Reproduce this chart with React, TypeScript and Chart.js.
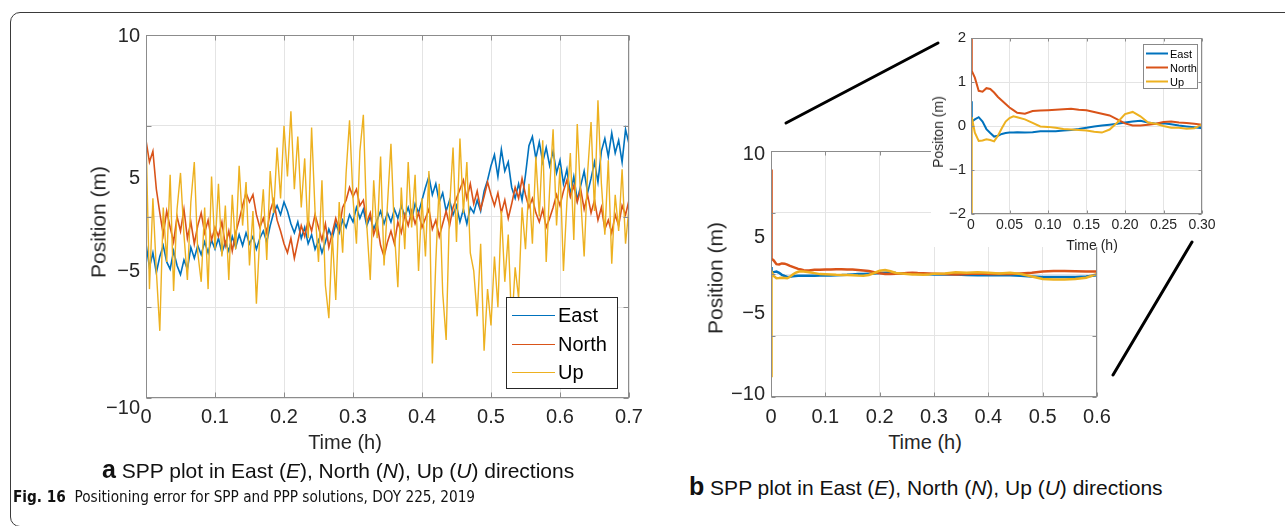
import React, { useEffect, useRef } from 'react';
import { Chart, registerables } from 'chart.js';

Chart.register(...registerables);

const FONT = '"Liberation Sans", Arial, Helvetica, sans-serif';
const NARROW = '"Liberation Sans Narrow", "DejaVu Sans Condensed", "Liberation Sans", sans-serif';
const EAST_C = '#0072BD';
const NORTH_C = '#D95319';
const UP_C = '#EDB120';
const GRID_C = '#e4e4e4';
const BOX_C = '#8c8c8c';
const TEXT_C = '#262626';

const seriesNames = ['East', 'North', 'Up'];

// ---------- Panel a: SPP ----------
const aXTicks = [0, 0.1, 0.2, 0.3, 0.4, 0.5, 0.6, 0.7];
const aYGrid = [10, 5, 0, -5, -10];
const aYLabels = ['10', '5', '\u22125', '\u221210'];
const aYLabelAt = [9.9, 2.1, -3.05, -10.6];
const aTime = Array.from({ length: 141 }, (_, i) => +(i * 0.005).toFixed(3));
const aEast = [
  -1.5, -2.8, -2.0, -3.1, -2.2, -1.6, -2.5, -2.9, -1.9, -2.7, -3.2, -2.4, -2.9, -1.7, -2.3, -1.6, -2.1, -1.4, -2.0, -1.3, -1.8,
  -1.2, -2.0, -1.4, -1.9, -1.1, -1.7, -1.0, -1.6, -0.9, -1.5, -1.1, -1.8, -1.2, -0.8, -1.4, -0.5, 0.2, 0.6, 0.1, 0.8,
  0.3, -0.4, -0.9, -0.3, -1.2, -0.6, -1.5, -1.0, -1.8, -1.3, -2.0, -1.4, -0.7, -1.2, -0.4, -0.9, -0.2, -0.6, 0.1, -0.3,
  0.5, -0.1, 0.4, -0.5, 0.0, -0.7, -0.2, 0.3, -0.4, 0.2, -0.3, 0.4, -0.1, 0.6, 0.0, 0.5, -0.2, 0.7, 0.2, 0.9,
  1.6, 2.2, 1.2, 1.8, 0.8, 1.3, 0.3, 0.9, 0.1, 0.6, -0.3, 0.4, -0.4, 0.5, 0.2, 0.9, 0.3, 1.4, 2.0, 2.8,
  3.4, 2.2, 3.7, 2.5, 3.0, 1.6, 1.0, 1.8, 0.9, 2.3, 3.9, 4.4, 3.2, 4.1, 3.0, 3.8, 2.8, 3.6, 2.4, 3.1,
  1.8, 2.6, 1.2, 2.2, 0.9, 1.7, 2.5, 1.3, 2.1, 3.0, 1.9, 3.6, 4.3, 3.3, 4.6, 3.5, 4.2, 3.0, 4.8, 4.0,
];
const aNorth = [
  4.2, 3.0, 3.6, 1.5, 0.2, -1.0, 0.3, -0.6, -1.4, 0.0, -0.8, 0.4, -1.2, -0.3, -1.5, -0.5, 0.2, -0.9, -0.2, -1.3, -0.6,
  -1.1, -0.3, -1.6, -0.8, -1.9, -0.9, -0.2, 0.6, 1.3, 0.8, 1.2, 0.1, -0.6, -0.1, -0.9, 0.3, 0.9, -0.2, -0.8, -1.5,
  -2.0, -1.2, -2.3, -1.4, -0.5, -1.1, -0.2, -0.8, 0.1, -0.6, -1.3, -0.4, -1.7, -0.9, -0.1, -0.7, 0.5, 0.9, 1.6, 1.1,
  1.5, 0.6, 0.9, -0.3, 0.2, -1.0, -0.4, -1.6, -2.2, -1.4, -0.8, -1.5, -0.3, -0.9, 0.1, -0.5, 0.3, -0.4, 0.2, -0.6,
  -0.1, 0.4, -0.7, -0.2, -1.1, -0.4, 0.3, -0.5, 0.5, 1.0, 1.5, 2.0, 1.0, 1.8, 0.7, 1.4, 0.4, 1.1, 1.9, 1.2,
  0.6, 1.3, 0.2, 0.9, -0.1, 0.7, 1.6, 1.0, 2.1, 1.2, 0.5, 1.0, 0.2, -0.3, 0.4, -0.6, -0.1, 0.5, 1.2, 0.6,
  1.4, 2.0, 1.1, 1.7, 0.8, 1.5, 0.4, 1.2, 0.2, 0.9, -0.2, 0.5, -0.7, -0.2, -0.9, 0.1, -0.5, 0.6, 0.1, 0.9,
];
const aUp = [
  4.5, -4.0, 1.0, -3.0, -6.3, 0.5, -2.5, 2.3, -4.1, 0.4, 2.4, -1.0, -3.5, 0.8, 3.0, -2.0, -3.6, 0.5, -4.0, 2.2, -1.8,
  1.8, -2.2, 0.6, -3.5, 1.2, -1.8, 2.8, -0.5, 1.9, -2.7, 0.3, -4.8, -1.0, 1.5, -2.4, 2.5, 0.2, 3.8, 1.0, 5.0,
  2.2, 5.8, 1.5, 4.4, 0.5, 3.2, -1.2, 4.9, 0.3, -2.5, 2.0, -3.8, -5.6, -1.0, -4.6, 0.8, -2.0, 2.4, 5.3, 1.0,
  -1.5, 3.6, 5.6, -0.5, -3.5, 2.0, -1.2, 3.3, -2.7, 0.7, 4.0, -0.8, -3.9, 1.6, -1.8, 3.0, -0.6, 2.3, -3.0, 1.0,
  -2.2, 2.5, -8.1, -2.5, 1.8, -4.2, -6.8, 0.5, 3.8, -1.4, 4.3, 0.2, 3.0, -2.0, -3.0, -5.5, -1.5, -7.4, -4.0, -6.0,
  -2.2, -5.0, 0.3, -3.6, -1.0, -6.1, -2.8, -4.5, 0.5, -1.8, 1.8, -1.5, 3.3, 0.0, 4.2, -2.5, 1.5, 4.8, -0.5, 2.7,
  -3.0, 0.8, 3.5, -1.3, 5.1, 1.0, -2.2, 2.4, 5.2, 0.3, 6.4, 1.8, -1.0, 3.1, -2.6, 1.2, -0.8, 2.6, -1.5, 0.5,
];

// ---------- Panel b: converged solution ----------
const bXTicks = [0, 0.1, 0.2, 0.3, 0.4, 0.5, 0.6];
const bYGrid = [10, 5, 0, -5, -10];
const bYLabels = ['10', '5', '\u22125', '\u221210'];
const bYLabelAt = [9.7, 3.0, -3.2, -9.8];
const bTime = [
  0, 0.001, 0.005,
  0.01, 0.015, 0.02, 0.025, 0.03, 0.035, 0.04, 0.045, 0.05, 0.055, 0.06,
  0.07, 0.08, 0.09, 0.1, 0.11, 0.12, 0.13, 0.14, 0.15, 0.16, 0.17, 0.18, 0.19, 0.2, 0.21, 0.22, 0.23, 0.24, 0.25, 0.26, 0.27, 0.28, 0.29, 0.3,
  0.32, 0.34, 0.36, 0.38, 0.4, 0.42, 0.44, 0.46, 0.48, 0.5, 0.52, 0.54, 0.56, 0.58, 0.6,
];
const bEast = [
  0.56, 0.1, 0.15,
  0.2, 0.1, -0.07, -0.16, -0.24, -0.22, -0.18, -0.16, -0.15, -0.15, -0.14,
  -0.15, -0.14, -0.12, -0.12, -0.12, -0.1, -0.09, -0.07, -0.04, -0.01, 0.01, 0.03, 0.05, 0.08, 0.1, 0.12, 0.08, 0.05, 0.06, 0.04, 0.01, -0.01, -0.03, -0.05,
  -0.05, -0.05, -0.08, -0.1, -0.1, -0.1, -0.1, -0.15, -0.2, -0.25, -0.25, -0.25, -0.25, -0.2, -0.1,
];
const bNorth = [
  8.5, 1.25, 1.1,
  0.8, 0.78, 0.86, 0.84, 0.76, 0.66, 0.58, 0.5, 0.42, 0.36, 0.3,
  0.28, 0.34, 0.35, 0.36, 0.37, 0.38, 0.39, 0.37, 0.36, 0.32, 0.28, 0.24, 0.15, 0.06, 0.01, 0.01, 0.03, 0.05, 0.09, 0.1, 0.08, 0.07, 0.05, 0.03,
  0.0, -0.05, 0.0, 0.05, 0.0, 0.02, 0.0, 0.05, 0.1, 0.2, 0.25, 0.25, 0.22, 0.2, 0.2,
];
const bUp = [
  -8.3, 0.2, -0.15,
  -0.34, -0.33, -0.3, -0.32, -0.35, -0.22, -0.05, 0.1, 0.18, 0.22, 0.2,
  0.15, 0.07, -0.01, -0.02, -0.04, -0.07, -0.08, -0.09, -0.1, -0.13, -0.15, -0.08, 0.08, 0.27, 0.32, 0.22, 0.08, 0.05, 0.0, -0.04, -0.04, -0.06, -0.05, 0.03,
  0.05, 0.15, 0.1, 0.15, 0.1, 0.05, 0.1, 0.0, -0.2, -0.4, -0.45, -0.45, -0.4, -0.3, 0.0,
];

// ---------- Inset (zoom of panel b) ----------
const cXTicks = [0, 0.05, 0.1, 0.15, 0.2, 0.25, 0.3];
const cYTicks = [2, 1, 0, -1, -2];
const cYLabels = ['2', '1', '0', '\u22121', '\u22122'];

// ---------- helpers ----------
type Mark = { v: number; g: boolean; t: string };

function makeY(marks: Mark[], min: number, max: number, size: number, pad: number, width: number) {
  return {
    type: 'linear',
    min,
    max,
    afterBuildTicks: (s: any) => {
      s.ticks = marks.map((m) => ({ value: m.v }));
    },
    afterFit: (s: any) => {
      s.width = width;
    },
    ticks: {
      autoSkip: false,
      padding: pad,
      color: TEXT_C,
      font: { family: FONT, size },
      callback: (_v: any, i: number) => (marks[i] ? marks[i].t : ''),
    },
    grid: {
      drawTicks: false,
      color: (c: any) => (marks[c.index] && marks[c.index].g ? GRID_C : 'rgba(0,0,0,0)'),
    },
    border: { display: false },
  };
}

function makeX(ticksArr: number[], fmt: (v: number) => string, min: number, max: number, size: number, pad: number, height: number) {
  return {
    type: 'linear',
    min,
    max,
    afterBuildTicks: (s: any) => {
      s.ticks = ticksArr.map((v) => ({ value: v }));
    },
    afterFit: (s: any) => {
      s.height = height;
    },
    ticks: {
      autoSkip: false,
      maxRotation: 0,
      minRotation: 0,
      padding: pad,
      color: TEXT_C,
      font: { family: FONT, size },
      callback: (v: any) => fmt(Number(v)),
    },
    grid: { drawTicks: false, color: GRID_C },
    border: { display: false },
  };
}

const boxPlugin = {
  id: 'matBox',
  afterDatasetsDraw(chart: any, _a: any, o: any) {
    if (!o || !o.on) return;
    const { ctx, chartArea: a, scales } = chart;
    const L = Math.round(a.left) + 0.5;
    const R = Math.round(a.right) - 0.5;
    const T = Math.round(a.top) + 0.5;
    const B = Math.round(a.bottom) - 0.5;
    ctx.save();
    ctx.strokeStyle = BOX_C;
    ctx.lineWidth = 1;
    ctx.strokeRect(L, T, R - L, B - T);
    const tl = o.tick || 4;
    ctx.beginPath();
    (o.xTicks || []).forEach((v: number) => {
      const px = Math.round(scales.x.getPixelForValue(v)) + 0.5;
      ctx.moveTo(px, B);
      ctx.lineTo(px, B - tl);
      ctx.moveTo(px, T);
      ctx.lineTo(px, T + tl);
    });
    (o.yTicks || []).forEach((v: number) => {
      const py = Math.round(scales.y.getPixelForValue(v)) + 0.5;
      ctx.moveTo(L, py);
      ctx.lineTo(L + tl, py);
      ctx.moveTo(R, py);
      ctx.lineTo(R - tl, py);
    });
    ctx.stroke();
    ctx.restore();
  },
};

const legendPlugin = {
  id: 'matLegend',
  afterDraw(chart: any, _a: any, o: any) {
    if (!o || !o.items) return;
    const ctx = chart.ctx;
    ctx.save();
    ctx.fillStyle = '#ffffff';
    ctx.fillRect(o.x, o.y, o.w, o.h);
    ctx.strokeStyle = o.border;
    ctx.lineWidth = 1;
    ctx.strokeRect(o.x + 0.5, o.y + 0.5, o.w, o.h);
    ctx.font = `${o.size}px ${FONT}`;
    ctx.textBaseline = 'middle';
    o.items.forEach((it: any, i: number) => {
      const y = Math.round(o.y + o.first + i * o.row) + 0.5;
      ctx.strokeStyle = it.color;
      ctx.lineWidth = o.lw;
      ctx.beginPath();
      ctx.moveTo(o.x + o.l0, y);
      ctx.lineTo(o.x + o.l1, y);
      ctx.stroke();
      ctx.fillStyle = '#000';
      ctx.fillText(it.label, o.x + o.tx, y + 1);
    });
    ctx.restore();
  },
};

function ds(label: string, xs: number[], ys: number[], color: string, width: number, order: number) {
  return {
    label,
    data: xs.map((x, i) => ({ x, y: ys[i] })),
    borderColor: color,
    backgroundColor: color,
    borderWidth: width,
    pointRadius: 0,
    fill: false,
    tension: 0,
    order,
  };
}

const colors = [EAST_C, NORTH_C, UP_C];
const legendItems = seriesNames.map((n, i) => ({ label: n, color: colors[i] }));

const fmt1 = (v: number) => (v === 0 ? '0' : v.toFixed(1));
const fmt2 = (v: number) => (v === 0 ? '0' : v.toFixed(2));

function baseOptions(padding: any, scales: any, box: any, legend: any) {
  return {
    responsive: false,
    maintainAspectRatio: false,
    animation: false,
    events: [],
    layout: { padding },
    plugins: {
      legend: { display: false },
      tooltip: { enabled: false },
      matBox: box,
      matLegend: legend,
    },
    scales,
  };
}

const aYMarks: Mark[] = [
  ...aYGrid.map((v) => ({ v, g: true, t: '' })),
  ...aYLabelAt.map((v, i) => ({ v, g: false, t: aYLabels[i] })),
];
const bYMarks: Mark[] = [
  ...bYGrid.map((v) => ({ v, g: true, t: '' })),
  ...bYLabelAt.map((v, i) => ({ v, g: false, t: bYLabels[i] })),
];
const cYMarks: Mark[] = cYTicks.map((v, i) => ({ v, g: true, t: cYLabels[i] }));

function configA() {
  return {
    type: 'line',
    data: {
      datasets: [
        ds(seriesNames[0], aTime, aEast, EAST_C, 1.6, 2),
        ds(seriesNames[1], aTime, aNorth, NORTH_C, 1.6, 1),
        ds(seriesNames[2], aTime, aUp, UP_C, 1.4, 0),
      ],
    },
    options: baseOptions(
      { top: 35, right: 31, left: 0, bottom: 0 },
      {
        x: makeX(aXTicks, fmt1, 0, 0.7, 20, 7, 42),
        y: makeY(aYMarks, -10, 10, 20, 6, 146),
      },
      { on: true, xTicks: aXTicks, yTicks: aYGrid, tick: 5 },
      { items: legendItems, x: 506, y: 297, w: 111, h: 91, first: 18, row: 28.5, l0: 6, l1: 49, tx: 52, size: 20, lw: 1, border: '#262626' }
    ),
    plugins: [boxPlugin, legendPlugin],
  };
}

function configB() {
  return {
    type: 'line',
    data: {
      datasets: [
        ds(seriesNames[0], bTime, bEast, EAST_C, 2.5, 2),
        ds(seriesNames[1], bTime, bNorth, NORTH_C, 2.5, 1),
        ds(seriesNames[2], bTime, bUp, UP_C, 2.5, 0),
      ],
    },
    options: baseOptions(
      { top: 31, right: 23, left: 0, bottom: 0 },
      {
        x: makeX(bXTicks, fmt1, 0, 0.6, 20, 8, 33),
        y: makeY(bYMarks, -10, 10, 20, 6, 91),
      },
      { on: true, xTicks: bXTicks, yTicks: bYGrid, tick: 4 },
      null
    ),
    plugins: [boxPlugin, legendPlugin],
  };
}

function configC() {
  return {
    type: 'line',
    data: {
      datasets: [
        ds(seriesNames[0], bTime, bEast, EAST_C, 2, 2),
        ds(seriesNames[1], bTime, bNorth, NORTH_C, 2, 1),
        ds(seriesNames[2], bTime, bUp, UP_C, 2, 0),
      ],
    },
    options: baseOptions(
      { top: 18, right: 29, left: 0, bottom: 0 },
      {
        x: makeX(cXTicks, fmt2, 0, 0.3, 14, 3, 33),
        y: makeY(cYMarks, -2, 2, 15, 5, 40),
      },
      { on: true, xTicks: cXTicks, yTicks: cYTicks, tick: 3 },
      { items: legendItems, x: 212, y: 24, w: 54, h: 44, first: 9, row: 14, l0: 3, l1: 25, tx: 27, size: 11, lw: 2, border: '#888888' }
    ),
    plugins: [boxPlugin, legendPlugin],
  };
}

function ChartCanvas(props: { left: number; top: number; width: number; height: number; make: () => any; bg?: string }) {
  const ref = useRef<HTMLCanvasElement | null>(null);
  useEffect(() => {
    const chart = new Chart(ref.current as HTMLCanvasElement, props.make());
    return () => chart.destroy();
  }, []);
  return (
    <canvas
      ref={ref}
      width={props.width}
      height={props.height}
      style={{
        position: 'absolute',
        left: props.left,
        top: props.top,
        width: props.width,
        height: props.height,
        background: props.bg || 'transparent',
      }}
    />
  );
}

function Txt(props: { x: number; y: number; size: number; rot?: number; left?: boolean; sx?: number; family?: string; color?: string; children: any }) {
  const tx = props.left ? '0' : '-50%';
  return (
    <div
      style={{
        position: 'absolute',
        left: props.x,
        top: props.y,
        transformOrigin: props.left ? 'left center' : 'center center',
        transform: `translate(${tx}, -50%)${props.rot ? ` rotate(${props.rot}deg)` : ''}${props.sx ? ` scaleX(${props.sx})` : ''}`,
        fontFamily: props.family || FONT,
        fontSize: props.size,
        lineHeight: 1,
        whiteSpace: 'nowrap',
        color: props.color || TEXT_C,
      }}
    >
      {props.children}
    </div>
  );
}

export default function App() {
  return (
    <div
      style={{
        position: 'fixed',
        left: 0,
        top: 0,
        width: 1285,
        height: 526,
        overflow: 'hidden',
        background: '#ffffff',
      }}
    >
      <div
        style={{
          position: 'absolute',
          left: 10,
          top: 12,
          width: 1300,
          height: 513,
          border: '1px solid #3a3a3a',
          borderRadius: 10,
        }}
      />
      <ChartCanvas left={0} top={0} width={660} height={440} make={configA} />
      <ChartCanvas left={680} top={120} width={440} height={310} make={configB} />
      <ChartCanvas left={931} top={20} width={300} height={227} make={configC} bg="#ffffff" />

      <Txt x={98} y={222} size={21} rot={-90}>Position (m)</Txt>
      <Txt x={345} y={442} size={20}>Time (h)</Txt>
      <Txt x={715} y={278} size={21} rot={-90}>Position (m)</Txt>
      <Txt x={925} y={442} size={20}>Time (h)</Txt>
      <Txt x={938} y={132} size={14} rot={-90}>Positon (m)</Txt>
      <Txt x={1092} y={245} size={14}>Time (h)</Txt>

      <Txt x={102} y={469} size={21} left color="#111">
        <b style={{ fontSize: 25 }}>a</b> SPP plot in East (<i>E</i>), North (<i>N</i>), Up (<i>U</i>) directions
      </Txt>
      <Txt x={689} y={486} size={21} left color="#111">
        <b style={{ fontSize: 25 }}>b</b> SPP plot in East (<i>E</i>), North (<i>N</i>), Up (<i>U</i>) directions
      </Txt>
      <Txt x={13} y={497} size={16} left sx={0.95} family={NARROW} color="#111">
        <b>Fig. 16</b>&nbsp; Positioning error for SPP and PPP solutions, DOY 225, 2019
      </Txt>

      <svg width={1285} height={526} style={{ position: 'absolute', left: 0, top: 0, pointerEvents: 'none' }}>
        <line x1={786} y1={123} x2={938} y2={43} stroke="#000" strokeWidth={3} strokeLinecap="round" />
        <line x1={1113} y1={375} x2={1192} y2={242} stroke="#000" strokeWidth={3} strokeLinecap="round" />
      </svg>
    </div>
  );
}
